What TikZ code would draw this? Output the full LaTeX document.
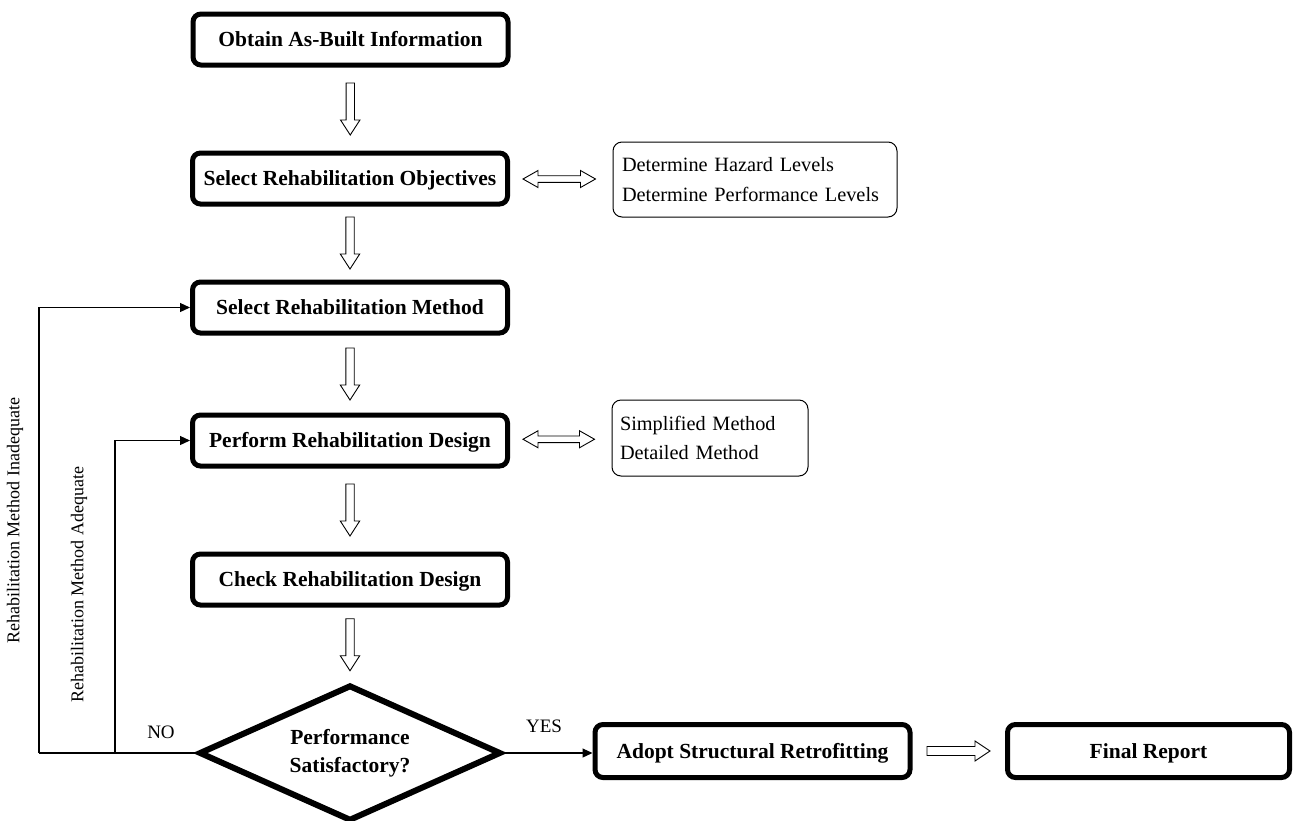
\documentclass[tikz,border=0pt]{standalone}
\usepackage{fontspec}
\setmainfont{Liberation Serif}
\usetikzlibrary{shapes.geometric,arrows.meta,calc}

% hollow block arrow pointing down, centred in the gap between two nodes
\newcommand\downblock[2]{%
  \draw[hollow] let \p1=($(#1.south)!0.5!(#2.north)$) in
    (\x1-4.2,\y1+26) -- (\x1+4.2,\y1+26) -- (\x1+4.2,\y1-11) -- (\x1+9.7,\y1-11)
    -- (\x1,\y1-26) -- (\x1-9.7,\y1-11) -- (\x1-4.2,\y1-11) -- cycle;}

% hollow double-headed arrow between a step and its note
\newcommand\sideblock[2]{%
  \draw[hollow] let \p1=(#1.east), \p2=(#2.west), \p3=($(#1.east)!0.5!(#2.west)$) in
    (\x1+13,\y3) -- (\x1+28,\y3+8.5) -- (\x1+28,\y3+3.3) -- (\x2-32,\y3+3.3)
    -- (\x2-32,\y3+8.5) -- (\x2-17,\y3) -- (\x2-32,\y3-8.5) -- (\x2-32,\y3-3.3)
    -- (\x1+28,\y3-3.3) -- (\x1+28,\y3-8.5) -- cycle;}

% hollow arrow pointing right
\newcommand\rightblock[2]{%
  \draw[hollow] let \p1=(#1.east), \p2=(#2.west), \p3=($(#1.east)!0.5!(#2.west)$) in
    (\x1+14.5,\y3+4.5) -- (\x2-30,\y3+4.5) -- (\x2-30,\y3+10) -- (\x2-15,\y3)
    -- (\x2-30,\y3-10) -- (\x2-30,\y3-4.5) -- (\x1+14.5,\y3-4.5) -- cycle;}

\begin{document}
\begin{tikzpicture}[x=1pt,y=1pt,
  stepbox/.style={draw, line width=5pt, rounded corners=8pt,
    minimum width=315pt, minimum height=51pt, inner sep=0pt,
    font=\fontsize{21.5}{26}\selectfont\bfseries,
    text height=14.2pt, text depth=0pt},
  notebox/.style={draw, line width=1pt, rounded corners=9pt, align=left,
    inner ysep=0pt, font=\fontsize{20.3}{29.5}\selectfont},
  decision/.style={diamond, draw, line width=6pt, aspect=2.2,
    minimum width=302pt, minimum height=136pt, inner sep=0pt, align=center,
    font=\fontsize{21.5}{28}\selectfont\bfseries},
  hollow/.style={draw, line width=0.9pt, fill=white, line join=miter},
  wire/.style={line width=1.2pt},
  feedback/.style={wire, -{Triangle[length=10pt,width=9pt]}},
  tag/.style={font=\fontsize{19}{22}\selectfont, inner sep=0pt},
  sidetag/.style={font=\fontsize{18}{20}\selectfont, inner sep=0pt, rotate=90}
]
\useasboundingbox (0,0) rectangle (1294,-820);

% main column
\node[stepbox] (obtain)     at (350.5,-39.5)  {Obtain As-Built Information};
\node[stepbox] (objectives) at (350,-178.5)   {Select Rehabilitation Objectives};
\node[stepbox] (method)     at (350,-307.5)   {Select Rehabilitation Method};
\node[stepbox] (perform)    at (350,-440.5)   {Perform Rehabilitation Design};
\node[stepbox] (check)      at (350,-579.5)   {Check Rehabilitation Design};
\node[decision] (decide)    at (350,-753)     {Performance\\Satisfactory?};

% outcome row
\node[stepbox, minimum height=53pt] (adopt) at (752.5,-751) {Adopt Structural Retrofitting};
\node[stepbox, minimum width=282pt, minimum height=53pt] (final) at (1148.5,-751) {Final Report};

% notes
\node[notebox, inner xsep=9pt, text width=266pt, minimum width=284pt, minimum height=75pt]
  (levels) at (755,-179.5) {Determine Hazard Levels\\Determine Performance Levels};
\node[notebox, inner xsep=8pt, text width=180pt, minimum width=196pt, minimum height=76pt]
  (methods) at (710,-438) {Simplified Method\\Detailed Method};

% flow arrows
\downblock{obtain}{objectives}
\downblock{objectives}{method}
\downblock{method}{perform}
\downblock{perform}{check}
\downblock{check}{decide}
\sideblock{objectives}{levels}
\sideblock{perform}{methods}
\rightblock{adopt}{final}

% decision branches
\coordinate (outerturn) at (39,-753);
\coordinate (innerturn) at (115,-753);
\draw[wire] (decide.west) -- (outerturn);
\draw[feedback] (outerturn) |- (method.west);
\draw[feedback] (innerturn) |- (perform.west);
\draw[feedback] (decide.east) -- (decide.east -| adopt.west);

% labels
\node[tag] (no)  at (161,-732) {NO};
\node[tag] (yes) at (544,-726) {YES};
\node[sidetag] (inadequate) at (15,-521) {Rehabilitation Method Inadequate};
\node[sidetag] (adequate)   at (79,-585) {Rehabilitation Method Adequate};
\end{tikzpicture}
\end{document}
